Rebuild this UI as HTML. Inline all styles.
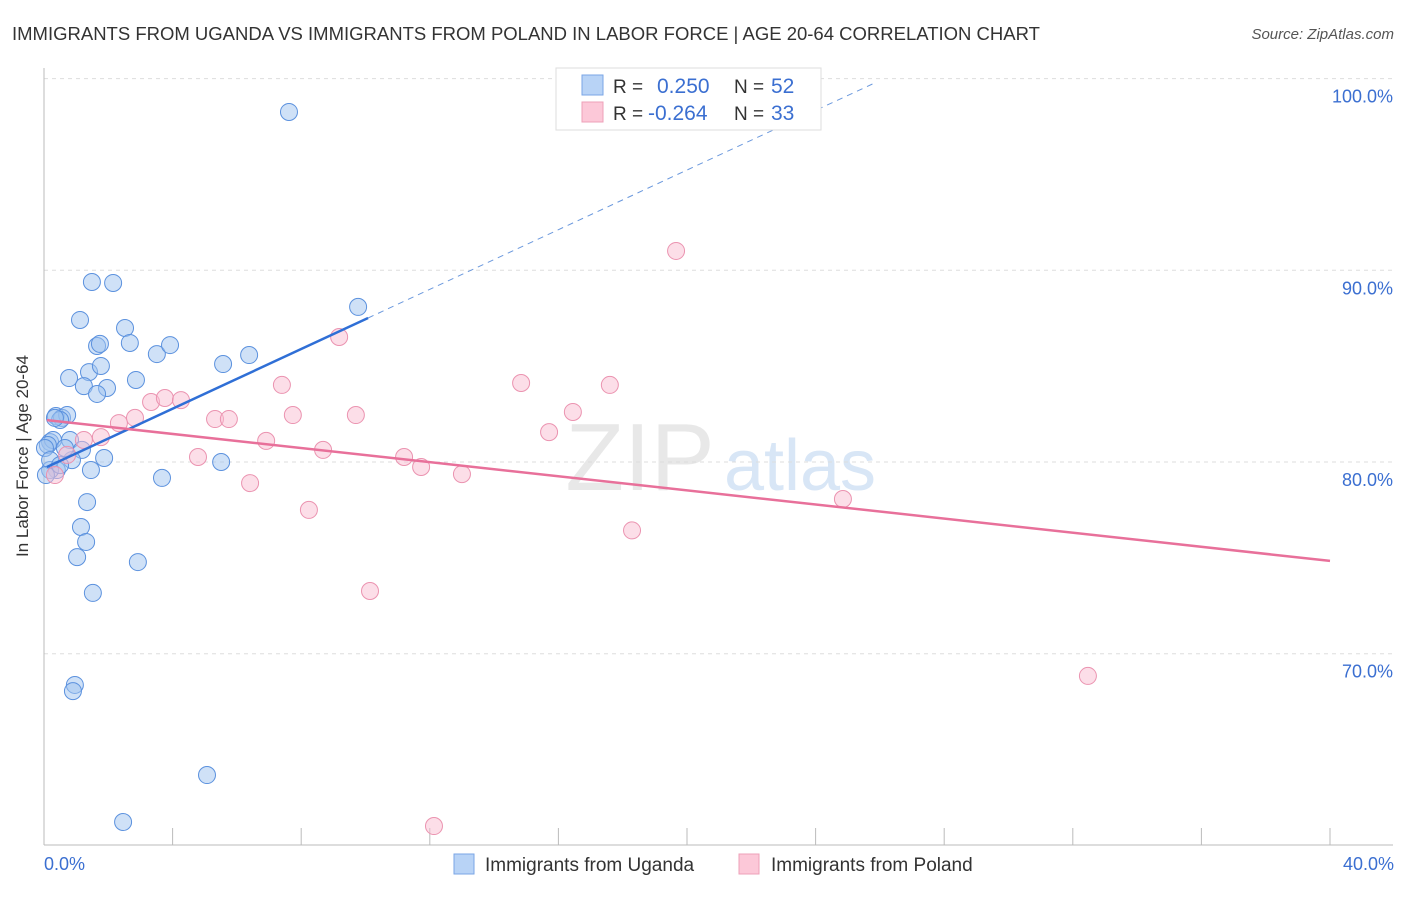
<!DOCTYPE html>
<html><head><meta charset="utf-8"><style>
body{margin:0;background:#fff;font-family:"Liberation Sans",sans-serif;}
svg text{font-family:"Liberation Sans",sans-serif;}
</style></head><body>
<svg id="chart" width="1406" height="892">
<text x="12" y="40" font-size="18.5" fill="#333">IMMIGRANTS FROM UGANDA VS IMMIGRANTS FROM POLAND IN LABOR FORCE | AGE 20-64 CORRELATION CHART</text>
<text x="1394" y="39" font-size="15" fill="#555" font-style="italic" text-anchor="end">Source: ZipAtlas.com</text>
<text x="640" y="490" font-size="96" fill="#e8e8e8" font-family="Liberation Serif" text-anchor="middle">ZIP</text>
<text x="800" y="490" font-size="72" fill="#d8e6f6" text-anchor="middle">atlas</text>
<g id="grid"></g>
<line x1="44" y1="68" x2="44" y2="845" stroke="#bbb"/>
<line x1="44" y1="845" x2="1393" y2="845" stroke="#bbb"/>
<g id="xticks"></g>
<text x="28" y="456" font-size="17" fill="#333" text-anchor="middle" transform="rotate(-90 28 456)">In Labor Force | Age 20-64</text>
<text x="44" y="870" font-size="18" fill="#3b6fd1">0.0%</text>
<text x="1394" y="870" font-size="18" fill="#3b6fd1" text-anchor="end">40.0%</text>
<g id="pts"></g>
<g id="lines"></g>
<g>
<rect x="556" y="68" width="265" height="62" fill="#fff" stroke="#ddd"/>
<rect x="582" y="75" width="21" height="20" fill="#b8d3f6" stroke="#7aa6e6"/>
<rect x="582" y="102" width="21" height="20" fill="#fcc8d8" stroke="#eea0b8"/>
<text x="613" y="93" font-size="19" fill="#333">R =</text>
<text x="657" y="93" font-size="21" fill="#3b6fd1">0.250</text>
<text x="734" y="93" font-size="19" fill="#333">N =</text>
<text x="771" y="93" font-size="21" fill="#3b6fd1">52</text>
<text x="613" y="120" font-size="19" fill="#333">R =</text>
<text x="648" y="120" font-size="21" fill="#3b6fd1">-0.264</text>
<text x="734" y="120" font-size="19" fill="#333">N =</text>
<text x="771" y="120" font-size="21" fill="#3b6fd1">33</text>
</g>
<g>
<rect x="454" y="854" width="20" height="20" fill="#b8d3f6" stroke="#7aa6e6"/>
<text x="485" y="871" font-size="19" fill="#333">Immigrants from Uganda</text>
<rect x="739" y="854" width="20" height="20" fill="#fcc8d8" stroke="#eea0b8"/>
<text x="771" y="871" font-size="19" fill="#333">Immigrants from Poland</text>
</g>
</svg>
<script>
const yTicks=[100,90,80,70];
const yTickLabels=["100.0%","90.0%","80.0%","70.0%"];
const xTickVals=[0,4,8,12,16,20,24,28,32,36,40];
const ugandaX=[7.62,1.49,2.15,1.12,2.52,1.65,1.74,2.67,3.51,3.92,5.57,6.38,9.77,0.78,1.40,1.77,1.24,1.96,1.65,2.86,0.37,0.56,0.72,0.50,0.19,0.28,0.81,0.12,1.18,0.87,1.87,1.46,0.40,0.19,3.67,5.51,1.34,1.15,1.31,1.03,2.92,1.52,0.96,0.90,5.07,2.46,0.34,0.03,0.19,0.65,0.50,0.06];
const ugandaY=[98.26,89.39,89.34,87.41,86.99,86.05,86.16,86.21,85.63,86.10,85.11,85.58,88.09,84.38,84.69,85.01,83.96,83.86,83.55,84.28,82.40,82.30,82.45,82.19,81.04,81.15,81.15,80.89,80.63,80.10,80.21,79.58,79.58,79.58,79.17,80.00,77.91,76.61,75.83,75.04,74.78,73.17,68.37,68.05,63.67,61.22,82.30,80.73,80.10,80.73,79.84,79.32];
const polandX=[19.66,9.18,14.84,17.60,7.40,3.33,3.76,4.26,2.83,2.33,5.32,5.75,7.74,9.70,16.45,15.71,1.77,1.24,6.91,8.68,4.79,11.20,11.73,13.00,0.72,0.34,6.41,8.24,18.29,24.85,10.14,32.47,12.13];
const polandY=[91.01,86.52,84.12,84.02,84.02,83.13,83.34,83.23,82.30,82.03,82.24,82.24,82.45,82.45,82.61,81.56,81.30,81.15,81.10,80.63,80.26,80.26,79.74,79.37,80.37,79.32,78.90,77.50,76.43,78.07,73.27,68.84,61.01];
const ugandaFit=[79.67,0.778];
const polandFit=[82.20,-0.184];
const NS="http://www.w3.org/2000/svg";
const sx=v=>44+v*32.15;
const sy=v=>462-(v-80)*19.17;
function mk(tag,attrs,parent){const e=document.createElementNS(NS,tag);for(const k in attrs)e.setAttribute(k,attrs[k]);document.getElementById(parent).appendChild(e);return e;}
yTicks.forEach((t,i)=>{
 const l=mk('line',{x1:44,x2:1393,y1:sy(t),y2:sy(t),stroke:'#ddd','stroke-dasharray':'4,4'},'grid');
 
 
 const tx=mk('text',{x:1393,y:sy(t)+24,'font-size':18,fill:'#3b6fd1','text-anchor':'end'},'grid');
 tx.textContent=yTickLabels[i];
 
 
});
xTickVals.forEach(v=>{
 const l=mk('line',{x1:sx(v),x2:sx(v),y1:828,y2:845,stroke:'#bbb'},'xticks');
 
 
});
ugandaX.forEach((x,i)=>{
 const c=mk('circle',{cx:sx(x),cy:sy(ugandaY[i]),r:8.5,fill:'rgba(160,196,240,0.5)',stroke:'#5b91de','stroke-width':1},'pts');
 
 
});
polandX.forEach((x,i)=>{
 const c=mk('circle',{cx:sx(x),cy:sy(polandY[i]),r:8.5,fill:'rgba(250,190,210,0.5)',stroke:'#eb93b0','stroke-width':1},'pts');
 
 
});
const ub=ugandaFit[0],um=ugandaFit[1];
let l1=mk('line',{x1:sx(0.09),y1:sy(ub+um*0.09),x2:sx(10.08),y2:sy(ub+um*10.08),stroke:'#2f6fd6','stroke-width':2.5},'lines');


let l2=mk('line',{x1:sx(10.08),y1:sy(ub+um*10.08),x2:sx(25.85),y2:sy(ub+um*25.85),stroke:'#6a98dd','stroke-width':1,'stroke-dasharray':'6,5'},'lines');


const pb=polandFit[0],pm=polandFit[1];
let l3=mk('line',{x1:sx(0.09),y1:sy(pb+pm*0.09),x2:sx(40),y2:sy(pb+pm*40),stroke:'#e8709a','stroke-width':2.5},'lines');


</script>
</body></html>
